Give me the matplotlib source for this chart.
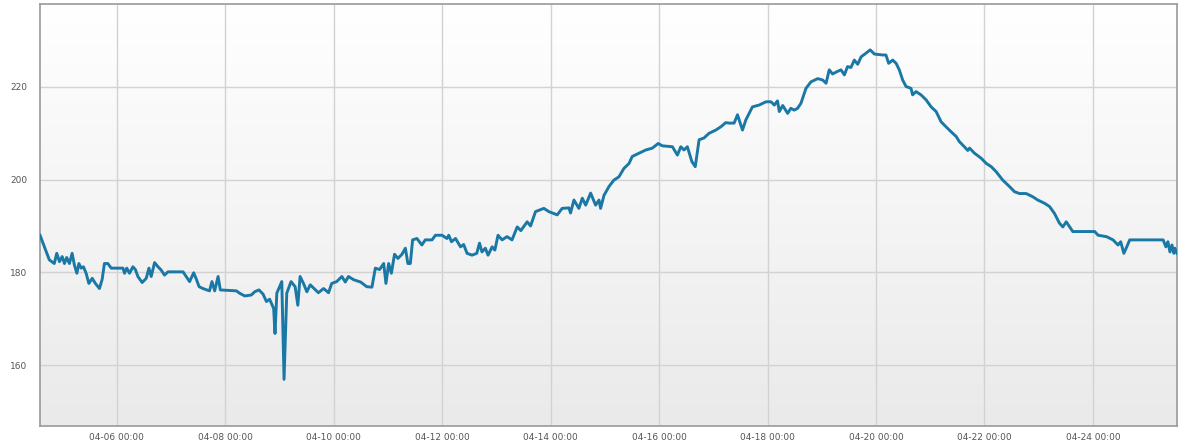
import numpy as np
import matplotlib
matplotlib.use('Agg')
import matplotlib.pyplot as plt
import matplotlib.dates as mdates
from datetime import datetime, timedelta

# hours after 04-04 00:00 and the reading at that time
hours = [14.0, 18.1, 20.3, 21.4, 22.6, 23.8, 24.8, 25.8, 27.0, 28.2,
         29.2, 30.3, 31.2, 32.2, 33.2, 34.4, 35.6, 37.1, 38.5, 40.3,
         41.5, 42.5, 44.0, 45.5, 50.7, 51.4, 52.4, 53.6, 55.1, 56.2,
         57.3, 59.2, 61.0, 62.2, 63.2, 64.7, 66.2, 67.6, 69.1, 70.6,
         77.3, 78.7, 80.2, 82.0, 83.2, 84.4, 86.1, 89.0, 90.1, 91.3,
         92.8, 93.8, 100.9, 102.3, 104.6, 107.5, 109.0, 110.9, 112.7, 114.2,
         115.6, 117.4, 118.0, 118.8, 121.0, 122.0, 123.2, 125.1, 126.9, 128.1,
         129.1, 130.6, 132.1, 133.6, 137.2, 139.5, 141.7, 143.1, 145.3, 147.6,
         149.1, 150.5, 152.8, 155.9, 158.6, 160.9, 162.4, 164.3, 166.1, 167.1,
         168.3, 169.5, 170.9, 172.4, 174.2, 175.7, 176.8, 177.9, 178.9, 180.8,
         183.0, 184.5, 187.5, 189.0, 191.9, 194.1, 194.9, 196.1, 197.9, 200.1,
         201.5, 203.0, 205.2, 207.3, 208.5, 209.6, 211.1, 212.3, 214.1, 215.3,
         216.7, 218.5, 220.7, 222.9, 225.2, 226.8, 229.6, 231.1, 233.3, 237.0,
         239.2, 242.9, 245.1, 248.1, 248.8, 250.3, 252.5, 254.0, 255.5, 257.7,
         259.9, 261.4, 262.1, 263.6, 265.8, 268.0, 270.2, 272.4, 274.7, 276.1,
         279.1, 282.1, 285.0, 287.6, 289.4, 293.9, 296.1, 297.6, 299.0, 300.5,
         302.5, 304.0, 305.7, 307.9, 310.1, 313.1, 315.3, 317.5, 319.0, 321.2,
         322.7, 324.9, 326.4, 329.3, 332.3, 335.3, 337.5, 339.0, 340.4, 341.2,
         342.7, 344.9, 346.3, 347.8, 349.3, 350.8, 353.0, 355.2, 358.2, 360.4,
         361.9, 363.3, 364.8, 366.3, 368.5, 370.0, 371.4, 372.9, 374.4, 375.9,
         377.4, 379.6, 381.4, 383.3, 387.0, 388.4, 389.6, 391.4, 392.9, 394.3,
         395.8, 397.3, 399.5, 400.2, 401.7, 403.9, 406.2, 408.4, 410.6, 412.8,
         415.0, 417.3, 419.5, 420.9, 423.1, 424.6, 425.4, 427.6, 430.6, 432.8,
         435.0, 437.2, 440.1, 443.1, 445.3, 447.5, 450.5, 453.4, 455.6, 458.6,
         460.8, 463.0, 465.2, 466.7, 468.2, 469.7, 471.1, 480.8, 482.3, 486.0,
         488.9, 491.1, 492.3, 493.7, 495.0, 496.3, 511.1, 512.3, 513.2, 514.1,
         515.0, 515.8, 516.3, 517.2]
values = [188.0, 182.7, 181.9, 184.1, 182.3, 183.4, 181.9, 183.2, 181.9, 184.1,
          181.6, 179.8, 181.9, 180.9, 181.2, 179.8, 177.6, 178.7, 177.6, 176.5,
          178.5, 181.9, 181.9, 180.9, 180.9, 179.8, 180.9, 179.8, 181.2, 180.6,
          179.1, 177.8, 178.7, 180.9, 179.1, 182.1, 181.2, 180.5, 179.4, 180.1,
          180.1, 179.1, 178.0, 179.9, 178.5, 176.9, 176.5, 176.0, 178.0, 176.0,
          179.1, 176.2, 176.0, 175.5, 174.9, 175.1, 175.8, 176.2, 175.3, 173.7,
          174.2, 172.2, 166.8, 175.5, 178.0, 156.9, 175.5, 178.0, 176.9, 172.9,
          179.1, 177.6, 175.8, 177.3, 175.6, 176.5, 175.6, 177.6, 178.0, 179.1,
          177.9, 179.1, 178.4, 177.9, 176.9, 176.8, 180.9, 180.6, 181.9, 177.6,
          181.9, 179.8, 183.9, 183.0, 183.9, 185.2, 181.9, 181.9, 187.0, 187.3,
          185.9, 187.0, 187.0, 188.0, 188.0, 187.3, 188.0, 186.6, 187.3, 185.5,
          186.0, 184.1, 183.7, 184.1, 186.3, 184.4, 185.2, 183.7, 185.5, 184.8,
          188.0, 187.0, 187.7, 187.0, 189.8, 189.0, 190.9, 190.0, 193.1, 193.8,
          193.1, 192.4, 193.8, 193.9, 192.8, 195.6, 193.8, 196.0, 194.5, 197.1,
          194.5, 195.6, 193.8, 196.6, 198.5, 199.9, 200.6, 202.4, 203.5, 205.0,
          205.7, 206.4, 206.8, 207.8, 207.3, 207.1, 205.3, 207.1, 206.4, 207.1,
          203.9, 202.8, 208.6, 209.0, 210.0, 210.7, 211.4, 212.3, 212.2, 212.2,
          214.0, 210.7, 212.9, 215.7, 216.1, 216.8, 216.8, 216.1, 217.0, 214.7,
          216.0, 214.3, 215.4, 215.0, 215.4, 216.5, 219.7, 221.1, 221.8, 221.5,
          220.8, 223.7, 222.8, 223.2, 223.7, 222.6, 224.4, 224.2, 225.8, 224.9,
          226.5, 227.3, 228.0, 227.1, 226.9, 226.9, 225.1, 225.8, 225.1, 223.7,
          221.5, 220.1, 219.7, 218.3, 219.0, 218.3, 217.2, 215.7, 214.7, 212.5,
          211.4, 210.3, 209.3, 208.2, 207.1, 206.3, 206.8, 205.7, 204.6, 203.5,
          202.8, 201.7, 199.9, 198.5, 197.4, 197.0, 197.0, 196.3, 195.6, 194.9,
          194.2, 192.7, 190.6, 189.8, 190.9, 189.8, 188.8, 188.8, 188.0, 187.7,
          187.0, 185.9, 186.6, 184.1, 185.5, 187.0, 187.0, 185.5, 186.6, 184.4,
          185.9, 184.1, 185.2, 184.1]
y_ticks = [160, 180, 200, 220]

start = datetime(2012, 4, 4)
times = [start + timedelta(hours=h) for h in hours]

fig = plt.figure(figsize=(11.88, 4.46), dpi=100)
ax = fig.add_axes([0.0337, 0.0455, 0.957, 0.9455])

# light vertical gradient behind the plot
grad = np.linspace(1.0, 0.0, 256).reshape(-1, 1)
ax.imshow(grad, extent=[0, 1, 0, 1], transform=ax.transAxes, aspect='auto',
          cmap=matplotlib.colors.LinearSegmentedColormap.from_list('bg', ['#eaeaea', '#ffffff']),
          zorder=0)

ax.plot(times, values, color='#1a78a6', lw=2.1, solid_joinstyle='round', zorder=3)

ax.set_xlim(times[0], times[-1])
ax.set_ylim(146.9, 237.9)
ax.set_yticks(y_ticks)
ax.xaxis.set_major_locator(mdates.DayLocator(bymonthday=range(6, 25, 2)))
ax.xaxis.set_major_formatter(mdates.DateFormatter('%m-%d %H:%M'))

ax.grid(True, color='#d2d2d2', lw=1, zorder=1)
ax.set_axisbelow(True)
ax.tick_params(length=0, labelsize=6.5, labelcolor='#555555')
ax.tick_params(axis='x', pad=5)
ax.tick_params(axis='y', pad=9)
for s in ax.spines.values():
    s.set_color('#9a9a9a')
    s.set_linewidth(1.2)

fig.savefig('out.png', dpi=100)
